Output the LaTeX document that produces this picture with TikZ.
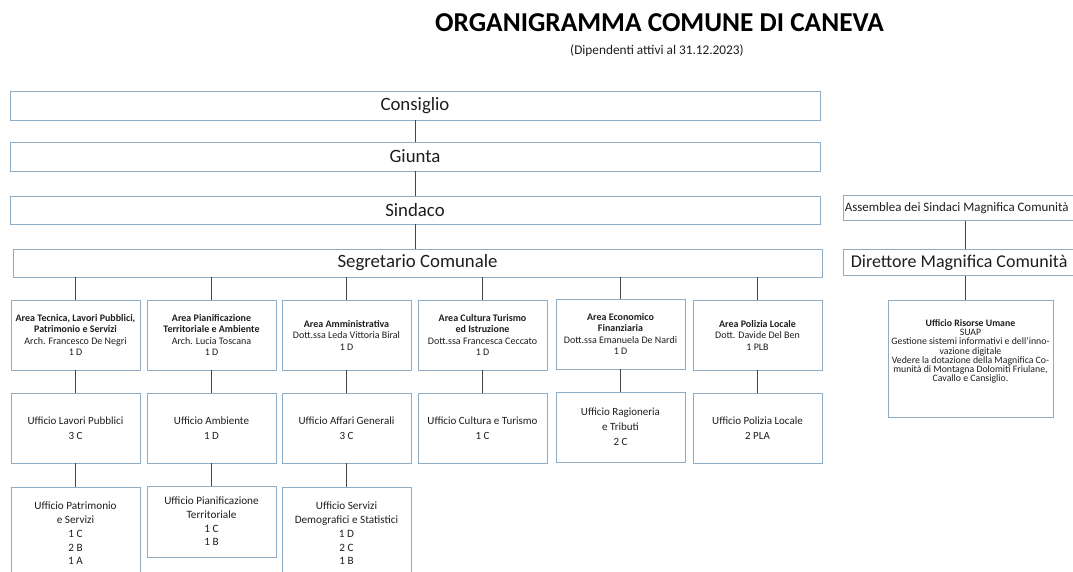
\documentclass[tikz,border=0pt]{standalone}
\usepackage{fontspec}
\setmainfont{Carlito}
\definecolor{boxc}{RGB}{143,172,198}
\definecolor{linec}{RGB}{70,70,70}
\definecolor{txtc}{RGB}{30,30,30}
\tikzset{
  box/.style={draw=boxc, line width=0.8pt, fill=white, inner sep=1pt, align=center, text=txtc},
  wide/.style={box, font=\fontsize{18.8}{20}\selectfont},
  areabox/.style={box, minimum width=129pt, minimum height=70pt, font=\fontsize{10}{11.5}\selectfont},
  uffbox/.style={box, minimum width=129pt, minimum height=70pt, font=\fontsize{11}{15}\selectfont},
  lowbox/.style={box, minimum width=129pt, font=\fontsize{11.2}{13.7}\selectfont},
  conn/.style={draw=linec, line width=0.6pt},
  txt/.style={align=center, text=txtc, inner sep=0pt}
}
\begin{document}
\begin{tikzpicture}[x=1pt,y=-1pt]
\useasboundingbox[fill=white] (0,0) rectangle (1073,571);
% titles
\node[txt, font=\fontsize{27.3}{30}\bfseries\selectfont, text=black] (title) at (659.5,23) {ORGANIGRAMMA COMUNE DI CANEVA};
\node[txt, font=\fontsize{13.3}{15}\selectfont] (sub) at (657,51) {(Dipendenti attivi al 31.12.2023)};
% main chain
\node[wide, minimum width=810pt, minimum height=29pt] (cons) at (415,105.5) {Consiglio};
\node[wide, minimum width=810pt, minimum height=29pt] (giun) at (415,156.5) {Giunta};
\node[wide, minimum width=810pt, minimum height=28pt] (sind) at (415,210) {Sindaco};
\node[wide, minimum width=809pt, minimum height=28pt] (segr) at (417.5,263) {Segretario Comunale};
% areas
\node[areabox] (a1) at (75.5,335) {\textbf{Area Tecnica, Lavori Pubblici,}\\\textbf{Patrimonio e Servizi}\\Arch. Francesco De Negri\\1 D};
\node[areabox] (a2) at (211.5,335) {\textbf{Area Pianificazione}\\\textbf{Territoriale e Ambiente}\\Arch. Lucia Toscana\\1 D};
\node[areabox] (a3) at (346.5,335) {\textbf{Area Amministrativa}\\Dott.ssa Leda Vittoria Biral\\1 D};
\node[areabox] (a4) at (482.5,335) {\textbf{Area Cultura Turismo}\\\textbf{ed Istruzione}\\Dott.ssa Francesca Ceccato\\1 D};
\node[areabox] (a5) at (620.5,334) {\textbf{Area Economico}\\\textbf{Finanziaria}\\Dott.ssa Emanuela De Nardi\\1 D};
\node[areabox] (a6) at (757.5,335) {\textbf{Area Polizia Locale}\\Dott. Davide Del Ben\\1 PLB};
% uffici row 2
\node[uffbox] (u1) at (75.5,428) {Ufficio Lavori Pubblici\\3 C};
\node[uffbox] (u2) at (211.5,428) {Ufficio Ambiente\\1 D};
\node[uffbox] (u3) at (346.5,428) {Ufficio Affari Generali\\3 C};
\node[uffbox] (u4) at (482.5,428) {Ufficio Cultura e Turismo\\1 C};
\node[uffbox] (u5) at (620.5,427) {Ufficio Ragioneria\\e Tributi\\2 C};
\node[uffbox] (u6) at (757.5,428) {Ufficio Polizia Locale\\2 PLA};
% row 3
\node[lowbox, minimum height=93pt] (l1) at (75.5,533.5) {};
\node[txt, font=\fontsize{11.2}{13.7}\selectfont] at (l1.center) {Ufficio Patrimonio\\e Servizi\\1 C\\2 B\\1 A};
\node[lowbox, minimum height=71pt] (l2) at (211.5,521.5) {Ufficio Pianificazione\\Territoriale\\1 C\\1 B};
\node[lowbox, minimum height=93pt] (l3) at (346.5,533.5) {};
\node[txt, font=\fontsize{11.2}{13.7}\selectfont] at (l3.center) {Ufficio Servizi\\Demografici e Statistici\\1 D\\2 C\\1 B};
% right side
\node[box, minimum width=244pt, minimum height=25pt] (ass) at (965,208) {};
\node[txt, anchor=west, font=\fontsize{12.9}{15}\selectfont] at ([xshift=2pt]ass.west) {Assemblea dei Sindaci Magnifica Comunità};
\node[box, minimum width=244pt, minimum height=26pt] (dir) at (965,262.5) {};
\node[txt, anchor=west, font=\fontsize{18}{20}\selectfont] at ([xshift=8pt]dir.west) {Direttore Magnifica Comunità};
\node[box, minimum width=165pt, minimum height=117pt] (ris) at (970.5,358.5) {};
\node[txt, font=\fontsize{9.8}{9.2}\selectfont] at ([yshift=7pt]ris.center) {\textbf{Ufficio Risorse Umane}\\SUAP\\Gestione sistemi informativi e dell’inno-\\vazione digitale\\Vedere la dotazione della Magnifica Co-\\munità di Montagna Dolomiti Friulane,\\Cavallo e Cansiglio.};
% connectors
\draw[conn] (cons.south) -- (giun.north);
\draw[conn] (giun.south) -- (sind.north);
\draw[conn] (sind.south) -- (sind.south |- segr.north);
\foreach \a in {a1,a2,a3,a4,a5,a6}{
  \draw[conn] (segr.south -| \a.north) -- (\a.north);
}
\draw[conn] (a1.south) -- (u1.north);
\draw[conn] (a2.south) -- (u2.north);
\draw[conn] (a3.south) -- (u3.north);
\draw[conn] (a4.south) -- (u4.north);
\draw[conn] (a5.south) -- (u5.north);
\draw[conn] (a6.south) -- (u6.north);
\draw[conn] (u1.south) -- (l1.north);
\draw[conn] (u2.south) -- (l2.north);
\draw[conn] (u3.south) -- (l3.north);
\draw[conn] (ass.south) -- (dir.north);
\draw[conn] (dir.south) -- (dir.south |- ris.north);
\end{tikzpicture}
\end{document}
